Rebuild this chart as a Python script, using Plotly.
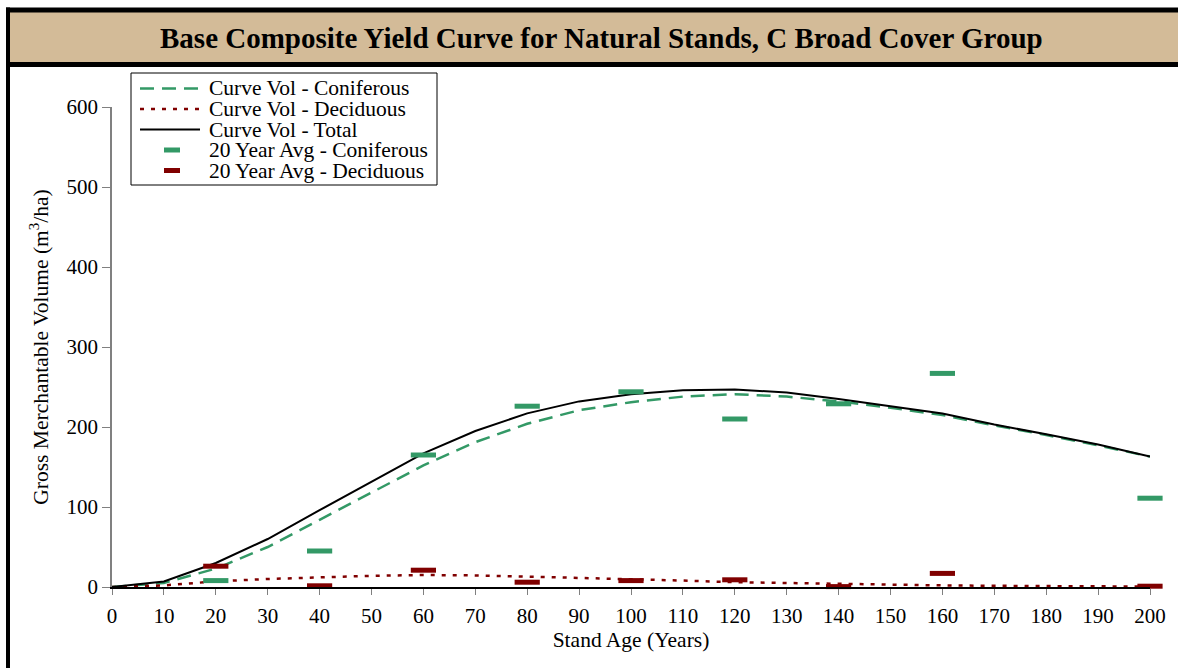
import plotly.graph_objects as go

# Stand age (years) and yield curve volumes (m3/ha)
ages = [0, 10, 20, 30, 40, 50, 60, 70, 80, 90, 100, 110, 120, 130, 140, 150, 160, 170, 180, 190, 200]
curve_coniferous = [0, 5, 23, 50, 84, 118, 152, 181, 204, 221, 231, 238, 241, 238, 232, 224, 215, 202, 190, 177, 163]
curve_deciduous = [0, 2, 7, 10, 12, 14, 15, 14.5, 13, 11.5, 10, 8, 6, 5, 3.5, 2.5, 2, 1.5, 1, 0.8, 0.5]
curve_total = [0, 7, 30, 60, 96, 132, 167, 195, 217, 232, 241, 246, 247, 243, 235, 226, 217, 203, 191, 178, 163]

# 20-year average observed volumes
avg_ages = [20, 40, 60, 80, 100, 120, 140, 160, 200]
avg_coniferous = [8, 45, 165, 226, 244, 210, 229, 267, 111]
avg_deciduous = [26, 1.5, 21, 6, 8, 9, 0.5, 17, 1]

x_ticks = list(range(0, 201, 10))
y_ticks = list(range(0, 601, 100))

legend_labels = ["Curve Vol - Coniferous", "Curve Vol - Deciduous", "Curve Vol - Total",
                 "20 Year Avg - Coniferous", "20 Year Avg - Deciduous"]

GREEN = "#339966"
RED = "#800000"
FONT = "Liberation Serif"

W, H = 1178, 668
ML, MR, MT, MB = 112, 28, 107, 81
PW, PH = W - ML - MR, H - MT - MB


def px(xp):
    return (xp - ML) / PW


def py(yp):
    return (H - MB - yp) / PH


con_line = dict(color=GREEN, width=2.5, dash="14px,8px")
dec_line = dict(color=RED, width=2.5, dash="4px,7px")
tot_line = dict(color="black", width=2)

fig = go.Figure()
fig.add_trace(go.Scatter(x=ages, y=curve_coniferous, mode="lines", name=legend_labels[0], line=con_line))
fig.add_trace(go.Scatter(x=ages, y=curve_deciduous, mode="lines", name=legend_labels[1], line=dec_line))
fig.add_trace(go.Scatter(x=ages, y=curve_total, mode="lines", name=legend_labels[2], line=tot_line))
fig.add_trace(go.Scatter(x=avg_ages, y=avg_coniferous, mode="markers", name=legend_labels[3], cliponaxis=False,
                         marker=dict(symbol="line-ew", size=18, line=dict(color=GREEN, width=5))))
fig.add_trace(go.Scatter(x=avg_ages, y=avg_deciduous, mode="markers", name=legend_labels[4], cliponaxis=False,
                         marker=dict(symbol="line-ew", size=18, line=dict(color=RED, width=5))))

shapes = [
    # title band: tan panel with black top and bottom rules
    dict(type="rect", xref="paper", yref="paper", x0=px(10), x1=px(1240), y0=py(11), y1=py(63),
         fillcolor="#D3BB98", line=dict(width=0), layer="below"),
    dict(type="rect", xref="paper", yref="paper", x0=px(6), x1=px(1240), y0=py(7.5), y1=py(12.5),
         fillcolor="black", line=dict(width=0), layer="below"),
    dict(type="rect", xref="paper", yref="paper", x0=px(6), x1=px(1240), y0=py(62), y1=py(67),
         fillcolor="black", line=dict(width=0), layer="below"),
    # left frame edge
    dict(type="rect", xref="paper", yref="paper", x0=px(6), x1=px(10), y0=py(7.5), y1=py(700),
         fillcolor="black", line=dict(width=0), layer="below"),
    # legend frame
    dict(type="rect", xref="paper", yref="paper", x0=px(131), x1=px(437), y0=py(73), y1=py(185),
         fillcolor="white", line=dict(color="black", width=1)),
]

# legend rows: keys and labels
row_y = [88.5, 109, 129.5, 150, 170.5]
line_keys = [con_line, dec_line, tot_line]
for i, ln in enumerate(line_keys):
    shapes.append(dict(type="line", xref="paper", yref="paper", x0=px(140), x1=px(200),
                       y0=py(row_y[i]), y1=py(row_y[i]), line=ln))
for i, col in zip([3, 4], [GREEN, RED]):
    shapes.append(dict(type="line", xref="paper", yref="paper", x0=px(164), x1=px(180),
                       y0=py(row_y[i]), y1=py(row_y[i]), line=dict(color=col, width=5)))

annotations = [dict(text="<b>Base Composite Yield Curve for Natural Stands, C Broad Cover Group</b>",
                    xref="paper", yref="paper", x=px(601), y=py(38), xanchor="center", yanchor="middle",
                    showarrow=False, font=dict(family=FONT, size=29, color="black"))]
for i, lab in enumerate(legend_labels):
    annotations.append(dict(text=lab, xref="paper", yref="paper", x=px(207), y=py(row_y[i]),
                            xanchor="left", yanchor="middle", showarrow=False,
                            font=dict(family=FONT, size=21.5, color="black")))

fig.update_layout(
    width=W, height=H,
    margin=dict(l=ML, r=MR, t=MT, b=MB),
    paper_bgcolor="white", plot_bgcolor="white",
    font=dict(family=FONT, size=21, color="black"),
    shapes=shapes,
    annotations=annotations,
    showlegend=False,
    xaxis=dict(range=[0, 200], tickvals=x_ticks, ticks="outside", ticklen=6, tickcolor="#808080",
               showline=True, linecolor="black", linewidth=1.5, showgrid=False, zeroline=False,
               tickfont=dict(family=FONT, size=21), ticklabelstandoff=3,
               title=dict(text="Stand Age (Years)", font=dict(family=FONT, size=21.5), standoff=5)),
    yaxis=dict(range=[0, 600], tickvals=y_ticks, ticks="outside", ticklen=8, tickcolor="#808080",
               showline=True, linecolor="#808080", linewidth=1.5, showgrid=False, zeroline=False,
               tickfont=dict(family=FONT, size=21),
               title=dict(text="Gross Merchantable Volume (m<sup>3</sup>/ha)", font=dict(family=FONT, size=21.5),
                          standoff=12)),
)

fig.write_html("out.html", config={"displayModeBar": False})
